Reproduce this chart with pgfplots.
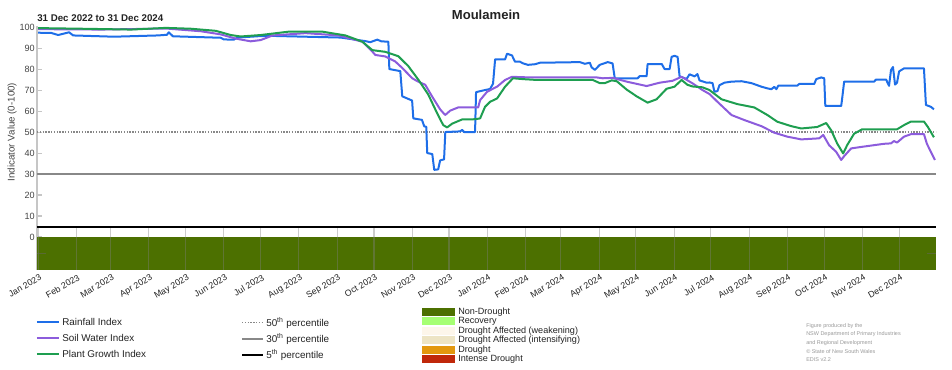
\documentclass[border=0pt]{standalone}
\usepackage{pgfplots}
\pgfplotsset{compat=1.18}
\usetikzlibrary{calc}
\usepackage{fontspec}
\setmainfont{Liberation Sans}
\definecolor{rainblue}{RGB}{30,110,232}
\definecolor{soilpurple}{RGB}{140,92,220}
\definecolor{plantgreen}{RGB}{30,158,80}
\definecolor{ndgreen}{RGB}{76,112,0}
\definecolor{recov}{RGB}{166,255,115}
\definecolor{weak}{RGB}{253,246,234}
\definecolor{intens}{RGB}{237,228,196}
\definecolor{drought}{RGB}{227,152,14}
\definecolor{intense}{RGB}{192,40,10}
\definecolor{pctgray}{RGB}{136,136,136}
\definecolor{txt}{RGB}{34,34,34}
\begin{document}
\begin{tikzpicture}
\begin{axis}[
  at={(0,0)}, anchor=south west,
  scale only axis, width=674.25pt, height=183pt,
  xmin=-1, xmax=730, ymin=-15.7, ymax=100.5,
  axis lines=left, axis line style={-},
  x axis line style={draw=none},
  y axis line style={draw=gray!45, line width=0.8pt},
  ytick={0,10,...,100},
  tick align=inside,
  major tick length=4pt,
  ytick style={draw=gray!45, line width=0.8pt},
  xtick style={draw=none},
  xtick={0,31,59,90,120,151,181,212,243,273,304,334,365,396,425,456,486,517,547,578,609,639,670,700},
  xticklabels={Jan 2023,Feb 2023,Mar 2023,Apr 2023,May 2023,Jun 2023,Jul 2023,Aug 2023,Sep 2023,Oct 2023,Nov 2023,Dec 2023,Jan 2024,Feb 2024,Mar 2024,Apr 2024,May 2024,Jun 2024,Jul 2024,Aug 2024,Sep 2024,Oct 2024,Nov 2024,Dec 2024},
  x tick label style={rotate=30, anchor=north east, font=\fontsize{6.6}{8}\selectfont, text=txt, inner sep=0.8pt, yshift=-2pt},
  y tick label style={font=\fontsize{6.8}{8}\selectfont, text=txt!85, inner sep=1.5pt},
  /pgf/number format/assume math mode=true,
  clip=true,
]
\coordinate (O) at (rel axis cs:0,0);
% drought category band
\addplot[fill=ndgreen, draw=none] coordinates {(-1,0) (730,0) (730,-15.7) (-1,-15.7)} -- cycle;
\pgfplotsinvokeforeach{0,31,59,90,120,151,181,212,243,273,304,334,365,396,425,456,486,517,547,578,609,639,670,700}{
  \draw[black!50, opacity=0.4, line width=0.8pt] (axis cs:#1,4.2) -- (axis cs:#1,-15.7);
}
\draw[black!60, opacity=0.5, line width=0.9pt] (axis cs:-1,-7.8) -- (axis cs:6,-7.8);
\draw[black!60, opacity=0.5, line width=0.9pt] (axis cs:723,-7.8) -- (axis cs:730,-7.8);
% percentiles
\addplot[pctgray, densely dotted, line width=1.1pt] coordinates {(-1,50) (730,50)};
\addplot[pctgray, line width=1.5pt] coordinates {(-1,30) (730,30)};
\addplot[black, line width=1.5pt] coordinates {(-1,5) (730,5)};
% Rainfall Index
\addplot[rainblue, line width=1.5pt, line join=round] coordinates {
(0,97.3) (10.5,97.2) (16.2,96.2) (25.1,97.5) (28.4,96) (61.6,95.4) (97.3,96) (104.6,96.3) (106.2,97.5) (109.5,95.6) (148.4,94.9) (150.9,94.1) (159,94) (162.2,95) (180.9,95.7) (189,95.8) (245.7,95) (266,93.3) (270,92.8) (275.7,94) (279,93.2) (284.7,93) (285.5,80) (294.4,79) (296,67) (304,65) (305,56.5) (312,55.8) (313.9,52.7) (315.5,52.5) (316.3,40) (320.4,39.5) (322,32) (325.2,32.2) (326.8,36.5) (330,37) (331,50) (343,50.3) (344.7,51) (346.3,50) (355.2,50) (356,69) (363.3,70) (367.4,70.5) (369.8,73) (371.5,84.6) (379.6,84.6) (381.2,87.3) (385.2,86.5) (387.7,83.5) (391.7,83.5) (394.2,82.7) (398.2,82) (404,82.3) (408,83) (440.4,83.3) (444.4,82.5) (448.5,83) (450,80.8) (452.6,79.6) (456.6,82) (460.7,82.8) (463,83.3) (467,82.7) (468.8,75.6) (487.4,75.6) (489,76.6) (494.7,76.6) (495.5,82.4) (507,82.4) (509.3,80) (513.4,80) (515,85.8) (517.4,86.3) (519.9,85.8) (521.5,76.5) (527.2,75.3) (529.6,77.5) (533.7,76.5) (536,77.6) (537.7,74.6) (543.4,73.5) (545.8,73.6) (548.3,73.3) (549.8,69.2) (552.3,69.5) (553.9,72.3) (557.9,73.5) (563.7,74) (571.8,74.2) (579.9,73.3) (588,71.6) (592.9,70.8) (596.1,70.4) (598.5,71.5) (600.2,70.4) (601.8,72.1) (617.2,72.1) (618.8,72.9) (631,72.9) (632.6,75.2) (636.7,76) (639.1,75.6) (640,62.4) (652.9,62.4) (653.7,66) (655.3,74) (679.6,74) (681.3,75) (689.4,75) (691.8,72) (693.4,79.5) (695,81) (696.7,72.6) (698.3,73.5) (700,78.9) (704,80.3) (720.2,80.3) (721.8,62.9) (725.9,62) (728.3,60.8)
};
% Soil Water Index
\addplot[soilpurple, line width=1.5pt, line join=round] coordinates {
(0,99) (51.1,98.8) (103.8,99.3) (132.2,98) (148.4,96.5) (160.6,94.5) (172.7,93.2) (180.9,93.8) (190.6,96) (217.4,97.1) (244.1,96) (263.6,93) (271.7,88.3) (274.1,86.7) (282.2,86) (290.3,83.6) (296,80.5) (304.1,75.6) (309,74) (314.7,72.5) (320.4,66.8) (326.8,60.8) (330.9,58.1) (335,60.2) (341.4,61.7) (357.7,61.7) (359.3,65.2) (365,69.2) (373.1,71.6) (379.6,74.8) (385.2,76.3) (399.8,76) (454.2,76) (459,75.6) (467.2,75.8) (478.5,74) (494.7,71.9) (505.3,73.5) (515.8,74.4) (523.1,76.3) (532,73.2) (540.1,70) (545.8,68.1) (552.3,64.4) (563.7,58.1) (574.2,55.7) (588,52.8) (598.5,49.7) (609.1,47.8) (620.4,46.5) (635,47) (638.3,48.6) (643.1,43.7) (648.8,40.6) (652.9,36.7) (655.3,38.5) (661,42.2) (669.1,42.9) (687.8,44.4) (693.4,44.6) (695.8,45.7) (698.3,45) (704,47.8) (709.7,49) (720.2,49) (722.6,44.4) (729.1,36.7)
};
% Plant Growth Index
\addplot[plantgreen, line width=1.5pt, line join=round] coordinates {
(0,99.5) (34.9,99.2) (75.4,98.8) (103.8,99.6) (124.1,99.2) (144.4,98.2) (156.5,96.2) (164.6,95.5) (180.9,96.2) (203.6,97.8) (231.1,97.8) (249.8,96) (263.6,93) (271.7,89) (282.2,88.2) (292.8,86.1) (300.9,81.4) (309,75) (317.1,67.9) (324.4,58.9) (329.3,53.3) (332.5,52.2) (336.6,54) (344.7,56) (355.2,56.1) (359.3,56.5) (363.3,62) (367.4,64.4) (373.1,66) (379.6,71.6) (386,75.6) (394.2,75.2) (405.5,74.8) (450.9,74.8) (456.6,73.3) (460.7,73.3) (466.3,74.6) (470.4,74.2) (478.5,70.2) (486.6,67) (495.5,64) (502.8,65.6) (510.9,70.6) (517.4,71.6) (523.1,74.8) (527.9,72.5) (532,71.7) (540.1,71.3) (545.8,70) (555.6,65.6) (568.5,63.3) (582.3,61.7) (592.9,58.1) (601,54.9) (612.3,52.8) (620.4,51.7) (633.4,52.4) (640.7,54.3) (644.8,50.8) (649.6,44.6) (654.5,39.8) (657.7,43.7) (663.4,49.2) (669.9,51.3) (698.3,51.3) (704,53.3) (709.7,55) (720.2,55) (723.4,52.4) (728.3,47.5)
};
\end{axis}
\begin{scope}[x=0.75pt, y=0.75pt, shift={($(O)+(-27.75pt,-75pt)$)}]
\path (0,0) rectangle (952,370);
% titles
\node[font=\bfseries\fontsize{9.8}{11}\selectfont, text=txt] at (486,355.5) {Moulamein};
\node[font=\bfseries\fontsize{7.3}{9}\selectfont, text=txt, anchor=west, inner sep=0pt] at (37,351.6) {31 Dec 2022 to 31 Dec 2024};
\node[font=\fontsize{7.3}{9}\selectfont, text=txt!85, rotate=90] at (12,238) {Indicator Value (0-100)};
% line legend
\begin{scope}[font=\fontsize{7.4}{9}\selectfont, text=txt]
\draw[rainblue, line width=1.5pt] (37,48.3) -- (59,48.3);
\node[anchor=west, inner sep=0pt] at (62,48.3) {Rainfall Index};
\draw[soilpurple, line width=1.5pt] (37,32.3) -- (59,32.3);
\node[anchor=west, inner sep=0pt] at (62,32.3) {Soil Water Index};
\draw[plantgreen, line width=1.5pt] (37,15.7) -- (59,15.7);
\node[anchor=west, inner sep=0pt] at (62,15.7) {Plant Growth Index};
\draw[pctgray, densely dotted, line width=1.1pt] (242,47.3) -- (263,47.3);
\node[anchor=west, inner sep=0pt] at (266,47.3) {50\textsuperscript{th} percentile};
\draw[pctgray, line width=1.5pt] (242,31) -- (263,31);
\node[anchor=west, inner sep=0pt] at (266,31) {30\textsuperscript{th} percentile};
\draw[black, line width=1.5pt] (242,15) -- (263,15);
\node[anchor=west, inner sep=0pt] at (266,15) {5\textsuperscript{th} percentile};
\end{scope}
% category legend
\begin{scope}[font=\fontsize{6.8}{8}\selectfont, text=txt]
\fill[ndgreen] (422,54) rectangle (455,62);
\node[anchor=west, inner sep=0pt] at (458,58) {Non-Drought};
\fill[recov] (422,44.5) rectangle (455,52.5);
\node[anchor=west, inner sep=0pt] at (458,48.5) {Recovery};
\fill[weak] (422,35) rectangle (455,43);
\node[anchor=west, inner sep=0pt] at (458,39) {Drought Affected (weakening)};
\fill[intens] (422,25.5) rectangle (455,33.5);
\node[anchor=west, inner sep=0pt] at (458,29.5) {Drought Affected (intensifying)};
\fill[drought] (422,16) rectangle (455,24);
\node[anchor=west, inner sep=0pt] at (458,20) {Drought};
\fill[intense] (422,6.5) rectangle (455,14.5);
\node[anchor=west, inner sep=0pt] at (458,10.5) {Intense Drought};
\end{scope}
% credits
\begin{scope}[font=\fontsize{4.1}{5}\selectfont, text=gray!80]
\node[anchor=west, inner sep=0pt] at (806,44) {Figure produced by the};
\node[anchor=west, inner sep=0pt] at (806,35.7) {NSW Department of Primary Industries};
\node[anchor=west, inner sep=0pt] at (806,26.7) {and Regional Development};
\node[anchor=west, inner sep=0pt] at (806,18.3) {© State of New South Wales};
\node[anchor=west, inner sep=0pt] at (806,10) {EDIS v2.2};
\end{scope}
\end{scope}
\end{tikzpicture}
\end{document}
